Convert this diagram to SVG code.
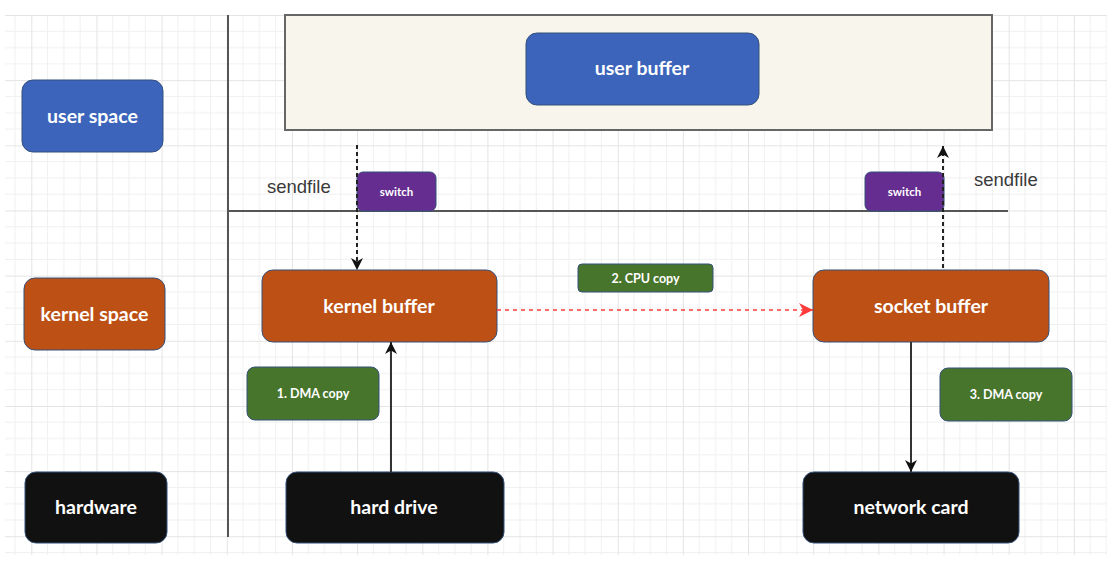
<svg xmlns="http://www.w3.org/2000/svg" width="1116" height="563" viewBox="0 0 1116 563">
<defs>
<style>
.box{stroke:#34507a;stroke-width:1}
.blue{fill:#3b64ba}
.orange{fill:#bd5115}
.black{fill:#111111}
.green{fill:#48752c}
.purple{fill:#652d90}
.lbl{font-family:Lato,"Liberation Sans",sans-serif;fill:#ffffff;text-anchor:middle;font-weight:bold}
.big{font-size:19.5px}
.sm{font-size:12.5px}
.xs{font-size:11.5px}
.plain{font-family:"Liberation Sans",Arial,sans-serif;font-size:18.5px;fill:#3a3a3a}
.div{stroke:#555555;stroke-width:2;fill:none}
.dash{stroke:#222222;stroke-width:2;stroke-dasharray:4 3;fill:none}
.solid{stroke:#333333;stroke-width:2;fill:none}
.red{stroke:#ff3b3b;stroke-width:1.5;stroke-dasharray:4 4;fill:none}
</style>
<pattern id="grid" x="31.3" y="15" width="65.16" height="65.16" patternUnits="userSpaceOnUse">
<path d="M16.29,0V65.16M32.58,0V65.16M48.87,0V65.16M0,16.29H65.16M0,32.58H65.16M0,48.87H65.16" stroke="#f0f0f0" stroke-width="1" fill="none"/>
<path d="M0.5,0V65.16M0,0.5H65.16" stroke="#e4e4e4" stroke-width="1" fill="none"/>
</pattern>
<marker id="ah" viewBox="0 0 12 12" refX="12" refY="6" markerWidth="12" markerHeight="12" markerUnits="userSpaceOnUse" orient="auto">
<path d="M0,0 L12,6 L0,12 L3.5,6 Z" fill="#111111"/>
</marker>
<marker id="ahr" viewBox="0 0 12 12" refX="12" refY="6" markerWidth="14" markerHeight="14" markerUnits="userSpaceOnUse" orient="auto">
<path d="M0,0 L12,6 L0,12 L3.5,6 Z" fill="#ff3b3b"/>
</marker>
</defs>
<rect x="0" y="0" width="1116" height="563" fill="#ffffff"/>
<rect x="5" y="15" width="1102" height="540" fill="url(#grid)"/>

<g id="frame">
<rect x="285" y="15" width="707" height="115" fill="#f8f6ec" stroke="#666666" stroke-width="2"/>
<path class="div" d="M228,15V537"/>
<path class="div" d="M228,211H1008"/>
</g>

<g id="user-space"><rect class="box blue" x="22" y="80" width="141" height="72" rx="11"/><text class="lbl big" x="92.5" y="123">user space</text></g>
<g id="kernel-space"><rect class="box orange" x="24" y="278" width="141" height="72" rx="11"/><text class="lbl big" x="94.5" y="321">kernel space</text></g>
<g id="hardware"><rect class="box black" x="25" y="472" width="142" height="71" rx="11"/><text class="lbl big" x="96" y="514">hardware</text></g>

<g id="user-buffer"><rect class="box blue" x="526" y="33" width="233" height="72" rx="11"/><text class="lbl big" x="642" y="75">user buffer</text></g>
<g id="kernel-buffer"><rect class="box orange" x="262" y="270" width="235" height="72" rx="11"/><text class="lbl big" x="379" y="313">kernel buffer</text></g>
<g id="socket-buffer"><rect class="box orange" x="813" y="270" width="236" height="72" rx="11"/><text class="lbl big" x="931" y="313">socket buffer</text></g>
<g id="hard-drive"><rect class="box black" x="286" y="472" width="218" height="71" rx="11"/><text class="lbl big" x="394" y="514">hard drive</text></g>
<g id="network-card"><rect class="box black" x="803" y="472" width="216" height="71" rx="11"/><text class="lbl big" x="911" y="514">network card</text></g>

<g id="switch-left"><rect class="box purple" x="357" y="172" width="79" height="39" rx="6"/><text class="lbl xs" x="396.5" y="195.5">switch</text></g>
<g id="switch-right"><rect class="box purple" x="865" y="172" width="79" height="39" rx="6"/><text class="lbl xs" x="904.5" y="195.5">switch</text></g>

<g id="cpu-copy"><rect class="box green" x="578" y="264" width="135" height="28" rx="4"/><text class="lbl sm" x="645.5" y="282.5">2. CPU copy</text></g>
<g id="dma-copy-1"><rect class="box green" x="247" y="367" width="132" height="53" rx="8"/><text class="lbl sm" x="313" y="398">1. DMA copy</text></g>
<g id="dma-copy-3"><rect class="box green" x="940" y="368" width="132" height="53" rx="8"/><text class="lbl sm" x="1006" y="399">3. DMA copy</text></g>

<g id="labels">
<text class="plain" x="267" y="193">sendfile</text>
<text class="plain" x="974" y="186">sendfile</text>
</g>

<g id="connectors">
<path class="dash" d="M357,145V270" marker-end="url(#ah)"/>
<path class="dash" d="M943,268V146" marker-end="url(#ah)"/>
<path class="red" d="M497,310H813" marker-end="url(#ahr)"/>
<path class="solid" d="M391,472V342" marker-end="url(#ah)"/>
<path class="solid" d="M911,342V472" marker-end="url(#ah)"/>
</g>
</svg>
